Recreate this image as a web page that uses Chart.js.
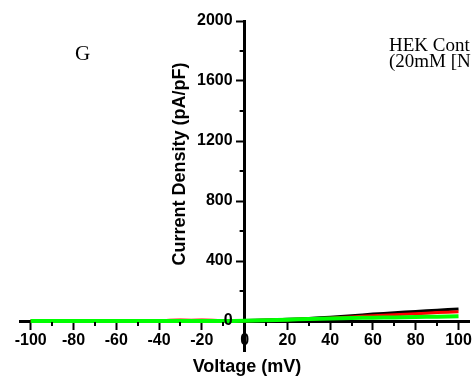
<!DOCTYPE html>
<html>
<head>
<meta charset="utf-8">
<title>HEK Control I-V</title>
<script src="https://cdn.jsdelivr.net/npm/chart.js@4.4.0/dist/chart.umd.min.js"></script>
<style>
  html, body { margin: 0; padding: 0; background: #fff; }
  #wrap { position: relative; width: 475px; height: 381px; }
</style>
</head>
<body>
<div id="wrap"><canvas id="iv" width="475" height="381"></canvas></div>
<script>
// Ramp voltages (mV) and current density traces (pA/pF)
const voltage = [-100, -95, -90, -85, -80, -75, -70, -65, -60, -55, -50, -45, -40, -35, -30, -25, -20, -15, -10, -5,
  0, 5, 10, 15, 20, 25, 30, 35, 40, 45, 50, 55, 60, 65, 70, 75, 80, 85, 90, 95, 100];
const traceBlack = [2, 1, 1, 1, 0, 1, 0, 1, 0, 1, 0, 1, 0, 1, 1, 0, 1, 1, 2, 2,
  3, 5, 7, 9, 12, 14, 17, 21, 25, 30, 35, 40, 46, 50, 55, 60, 64, 68, 72, 76, 80];
const traceRed = [0, 0, 1, 0, 0, 1, 0, 0, 1, 0, 0, 0, 0, 5, 6, 5, 6, 5, 2, 1,
  2, 4, 5, 7, 9, 11, 13, 16, 19, 23, 27, 31, 35, 39, 42, 45, 48, 52, 56, 59, 62];
const traceGreen = [0, 0, 0, 0, 0, 0, 0, 0, 0, 0, 0, 0, 0, 0, 0, 0, 0, 0, 0, 0,
  1, 3, 5, 7, 9, 11, 13, 15, 17, 18, 20, 21, 22, 23, 24, 25, 27, 28, 29, 30, 32];

const yTicks = [0, 400, 800, 1200, 1600, 2000];
const xTicks = [-100, -80, -60, -40, -20, 0, 20, 40, 60, 80, 100];

const tickFont = { family: 'Liberation Sans', size: 16, weight: 'bold' };

function points(ys) {
  return voltage.map((v, i) => ({ x: v, y: ys[i] }));
}

// y labels (the crossing axis keeps them flush to the line otherwise),
// minor ticks, axis titles, panel letter and condition text
const extras = {
  id: 'extras',
  afterDraw(chart) {
    const ctx = chart.ctx;
    const xs = chart.scales.x;
    const ys = chart.scales.y;
    const x0 = xs.getPixelForValue(0);
    const y0 = ys.getPixelForValue(0);
    ctx.save();
    ctx.strokeStyle = '#000';
    ctx.lineWidth = 2;
    ctx.beginPath();
    for (let v = -90; v <= 90; v += 20) {
      const px = Math.round(xs.getPixelForValue(v));
      ctx.moveTo(px, y0 + 1);
      ctx.lineTo(px, y0 + 5);
    }
    for (let v = 200; v <= 1800; v += 400) {
      const py = Math.round(ys.getPixelForValue(v));
      ctx.moveTo(x0 - 1, py);
      ctx.lineTo(x0 - 5, py);
    }
    ctx.stroke();

    ctx.fillStyle = '#000';
    ctx.font = 'bold 16px "Liberation Sans"';
    ctx.textAlign = 'right';
    ctx.textBaseline = 'middle';
    yTicks.forEach(v => ctx.fillText(String(v), x0 - 12, ys.getPixelForValue(v)));

    ctx.textAlign = 'center';
    ctx.font = 'bold 18px "Liberation Sans"';
    ctx.fillText('Voltage (mV)', 247, 367);
    ctx.save();
    ctx.translate(180, 164);
    ctx.rotate(-Math.PI / 2);
    ctx.fillText('Current Density (pA/pF)', 0, 0);
    ctx.restore();

    ctx.textAlign = 'left';
    ctx.textBaseline = 'alphabetic';
    ctx.font = '21px "Liberation Serif"';
    ctx.fillText('G', 75, 60);
    ctx.font = '19px "Liberation Serif"';
    ctx.fillText('HEK Cont', 389, 51);
    ctx.fillText('(20mM [N', 389, 67);
    ctx.restore();
  }
};

new Chart(document.getElementById('iv'), {
  type: 'scatter',
  data: {
    datasets: [
      { label: 'green', data: points(traceGreen), borderColor: '#00ff00', borderWidth: 4 },
      { label: 'red', data: points(traceRed), borderColor: '#ff0000', borderWidth: 3 },
      { label: 'black', data: points(traceBlack), borderColor: '#000000', borderWidth: 3 }
    ].map(d => Object.assign(d, { showLine: true, pointRadius: 0, fill: false, tension: 0 }))
  },
  options: {
    responsive: false,
    animation: false,
    devicePixelRatio: 1,
    layout: { padding: { left: 20, right: 5, top: 21, bottom: 30 } },
    plugins: { legend: { display: false }, tooltip: { enabled: false } },
    scales: {
      x: {
        type: 'linear',
        position: { y: 0 },
        min: -105,
        max: 105,
        afterBuildTicks: s => { s.ticks = xTicks.map(v => ({ value: v })); },
        ticks: { color: '#000', font: tickFont, padding: 3, maxRotation: 0, autoSkip: false, callback: v => String(v) },
        grid: { drawOnChartArea: false, drawTicks: true, tickLength: 7, tickWidth: 2, tickColor: '#000' },
        border: { color: '#000', width: 3 }
      },
      y: {
        type: 'linear',
        position: { x: 0 },
        min: -200,
        max: 2000,
        afterBuildTicks: s => { s.ticks = yTicks.map(v => ({ value: v })); },
        ticks: { display: false },
        grid: { drawOnChartArea: false, drawTicks: true, tickLength: 7, tickWidth: 2, tickColor: '#000' },
        border: { color: '#000', width: 3 }
      }
    }
  },
  plugins: [extras]
});
</script>
</body>
</html>
